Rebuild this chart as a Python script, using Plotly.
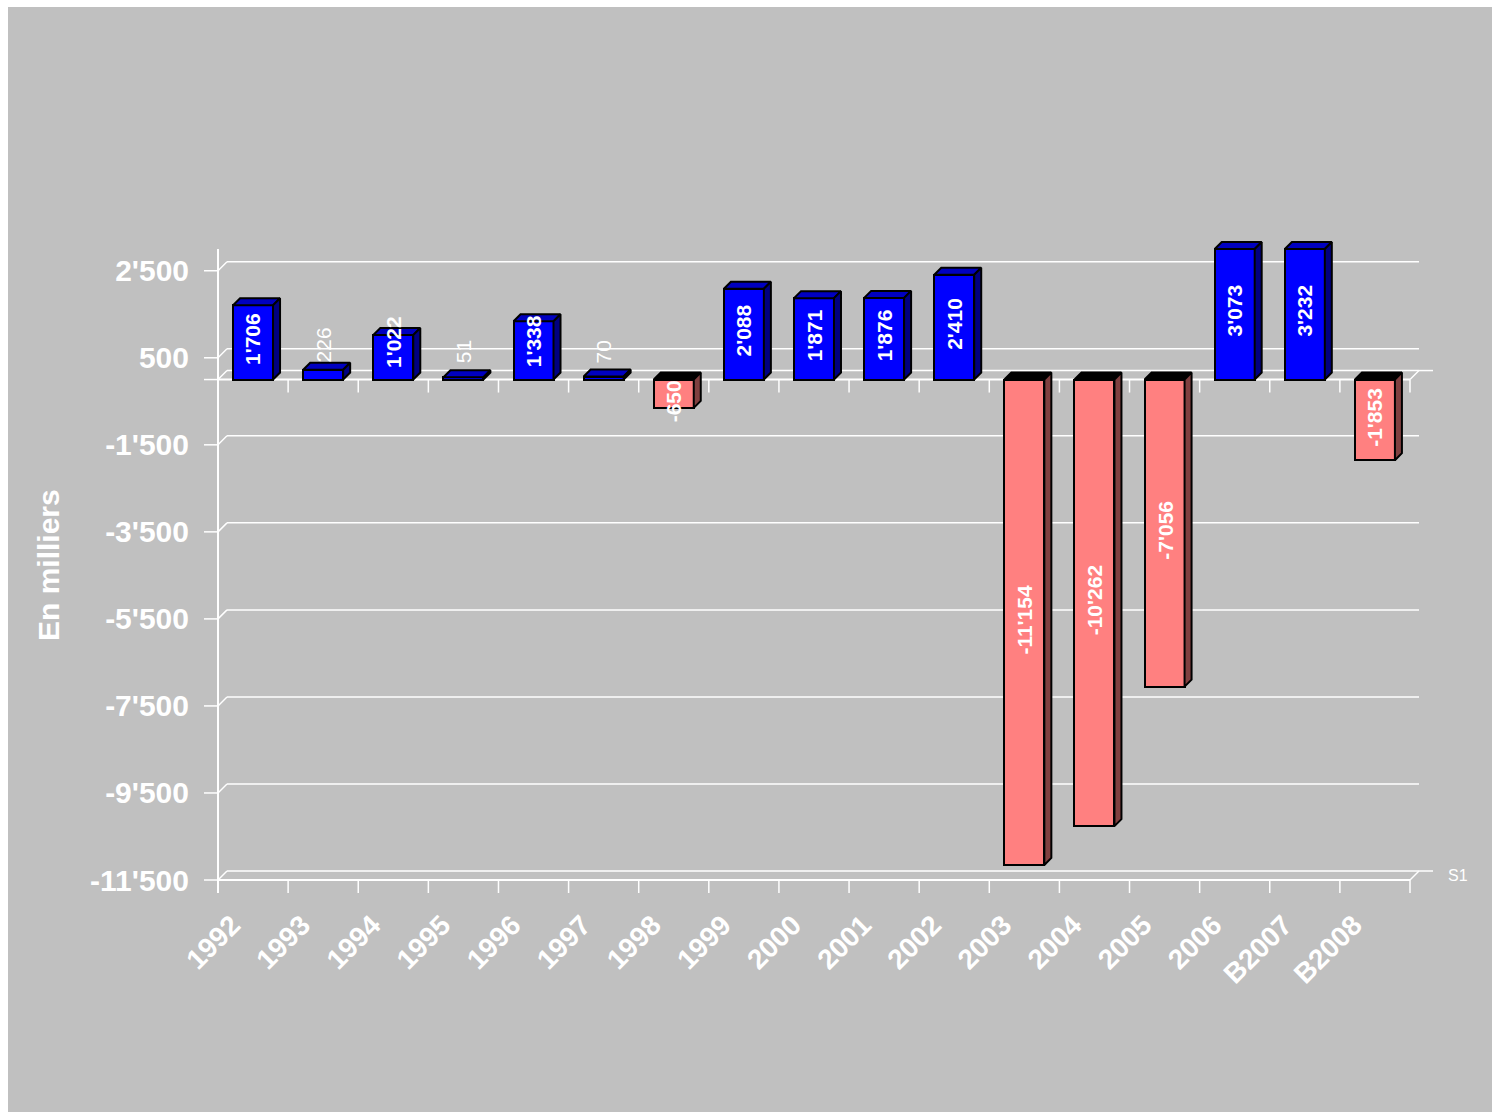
import plotly.graph_objects as go

# ---- data -------------------------------------------------------------
years = ["1992", "1993", "1994", "1995", "1996", "1997", "1998", "1999",
         "2000", "2001", "2002", "2003", "2004", "2005", "2006", "B2007", "B2008"]
results = [1706, 226, 1022, 51, 1338, 70, -650, 2088, 1871, 1876, 2410,
           -11154, -10262, -7056, 3073, 3232, -1853]
y_ticks = [-11500, -9500, -7500, -5500, -3500, -1500, 500, 2500]
y_min, y_max = -11500, 3000
series_name = "S1"
axis_title = "En milliers"


def fmt(v):
    s = f"{abs(v):,}".replace(",", "'")
    return "-" + s if v < 0 else s


# ---- geometry (pixels) --------------------------------------------------
W, H = 1492, 1112
AX_L, AX_R = 218, 1410          # front category axis
PY_LO, PY_HI = 880, 249          # pixel rows of y_min / y_max
PL, PR, PT, PB = 196, 1446, 228, 898   # plot area (holds the 3-D walls)
N = len(years)
cw = (AX_R - AX_L) / N
sy = (PY_LO - PY_HI) / (y_max - y_min)


def dx(px):
    return px / cw


def dy(px):
    return px / sy


def fx(px):
    return (px - PL) / (PR - PL)


def fy(py):
    return (PB - py) / (PB - PT)


x_rng = [-0.5 - dx(AX_L - PL), -0.5 + dx(PR - AX_L)]
y_rng = [y_min - dy(PB - PY_LO), y_max + dy(PY_HI - PT)]

WALL = 9      # depth of the walls / floor
DEPTH = 7     # depth of each column
BAR_W = 0.57

GRAY = "#C0C0C0"
BLUE, BLUE_TOP, BLUE_SIDE = "#0000FF", "#0000C0", "#000080"
RED, RED_TOP, RED_SIDE = "#FF8080", "#000000", "#804040"

x0_ax, x1_ax = -0.5, N - 0.5
wx, wy = dx(WALL), dy(WALL)

shapes = [dict(type="rect", xref="paper", yref="paper", layer="below",
               x0=fx(8), x1=fx(W + 5), y0=fy(H + 5), y1=fy(7),
               fillcolor=GRAY, line=dict(width=0))]


def seg(xa, ya, xb, yb, width=1.5, color="white"):
    shapes.append(dict(type="line", xref="x", yref="y", layer="below",
                       x0=xa, y0=ya, x1=xb, y1=yb,
                       line=dict(color=color, width=width)))


# back-wall gridlines with their diagonal returns to the front axis
for t in y_ticks + [0]:
    seg(x0_ax, t, x0_ax + wx, t + wy)
    seg(x0_ax + wx, t + wy, x1_ax + wx, t + wy)
    seg(x0_ax - dx(14), t, x0_ax, t)           # y tick marks

# floor outlines at zero and at the bottom
for base in (0, y_min):
    seg(x0_ax, base, x1_ax, base, width=2)
    seg(x1_ax, base, x1_ax + wx, base + wy)
    seg(x1_ax + wx, base + wy, x1_ax + wx + dx(14), base + wy)
    for k in range(N + 1):
        seg(x0_ax + k, base, x0_ax + k, base - dy(13))

# vertical value axis
seg(x0_ax, y_min - dy(13), x0_ax, y_max, width=2)

# ---- columns ------------------------------------------------------------
xs = list(range(N))
drawn = [min(max(v, y_min), y_max) for v in results]

fig = go.Figure()
fig.add_trace(go.Bar(
    x=xs, y=drawn, width=BAR_W,
    marker=dict(color=[BLUE if v >= 0 else RED for v in results],
                line=dict(color="black", width=2)),
    hoverinfo="skip", showlegend=False))

bx, by = dx(DEPTH), dy(DEPTH)
faces = {"pt": ([], []), "ps": ([], []), "nt": ([], []), "ns": ([], [])}
for i, h in enumerate(drawn):
    a, b = i - BAR_W / 2, i + BAR_W / 2
    top = max(h, 0)
    key = "p" if h >= 0 else "n"
    tx, ty = faces[key + "t"]
    tx += [a, b, b + bx, a + bx, a, None]
    ty += [top, top, top + by, top + by, top, None]
    sx, sy_ = faces[key + "s"]
    sx += [b, b, b + bx, b + bx, b, None]
    sy_ += [min(h, 0), top, top + by, min(h, 0) + by, min(h, 0), None]

for key, col in (("pt", BLUE_TOP), ("ps", BLUE_SIDE), ("nt", RED_TOP), ("ns", RED_SIDE)):
    fxs, fys = faces[key]
    fig.add_trace(go.Scatter(x=fxs, y=fys, mode="lines", fill="toself",
                             fillcolor=col, line=dict(color="black", width=2),
                             hoverinfo="skip", showlegend=False))

# ---- value labels -------------------------------------------------------
CHAR_W = {"'": 0.238, "-": 0.333}
LBL_SIZE = 21
annotations = []
for i, (v, h) in enumerate(zip(results, drawn)):
    txt = fmt(v)
    bold = abs(v) >= 300
    L = sum(CHAR_W.get(c, 0.556) for c in txt) * LBL_SIZE
    hp = abs(h) * sy
    if v >= 0:
        if bold:
            c = max(hp / 2 + 3.5, L / 2 + 12)
        else:
            c = L / 2 + max(hp + DEPTH, 16)
    else:
        c = -max(hp / 2 - 3, L / 2 + 1)
    annotations.append(dict(
        x=i, y=dy(c), xref="x", yref="y", showarrow=False, textangle=-90,
        text=f"<b>{txt}</b>" if bold else txt,
        font=dict(family="Liberation Sans, Arial", size=LBL_SIZE, color="white"),
        xanchor="center", yanchor="middle"))

annotations.append(dict(
    x=fx(48), y=fy(565), xref="paper", yref="paper", showarrow=False,
    textangle=-90, text=f"<b>{axis_title}</b>",
    font=dict(family="Liberation Sans, Arial", size=30, color="white"),
    xanchor="center", yanchor="middle"))
annotations.append(dict(
    x=fx(1446), y=fy(875), xref="paper", yref="paper", showarrow=False,
    text=series_name, xanchor="left", yanchor="middle",
    font=dict(family="Liberation Sans, Arial", size=16, color="white")))

fig.update_layout(
    width=W, height=H, template="none",
    margin=dict(l=PL, r=W - PR, t=PT, b=H - PB, pad=0),
    paper_bgcolor="white", plot_bgcolor=GRAY,
    shapes=shapes, annotations=annotations, showlegend=False, bargap=0,
    xaxis=dict(range=x_rng, tickvals=xs, ticktext=[f"<b>{y}</b>" for y in years],
               tickangle=-45, ticks="", showgrid=False, zeroline=False,
               showline=False, automargin=False, ticklabelstandoff=4,
               ticklabelshift=-21,
               tickfont=dict(family="Liberation Sans, Arial", size=28, color="white")),
    yaxis=dict(range=y_rng, tickvals=y_ticks, ticktext=[f"<b>{fmt(t)}</b>" for t in y_ticks],
               ticks="", showgrid=False, zeroline=False, showline=False,
               automargin=False, ticklabelstandoff=6,
               tickfont=dict(family="Liberation Sans, Arial", size=30, color="white")),
)

fig.write_html("out.html")
